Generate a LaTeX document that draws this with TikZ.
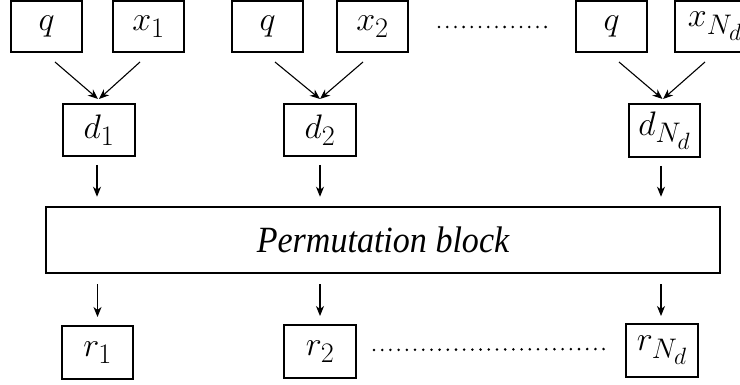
\RequirePackage{fix-cm}
\documentclass[tikz,border=0pt]{standalone}
\usepackage{fontspec}
\newfontfamily\blockfont{Liberation Serif}
\DeclareMathSizes{34}{34}{28.3}{23.6}
\usetikzlibrary{arrows.meta,calc}

\tikzset{
  every node/.style={font=\fontsize{34}{40}\selectfont},
  box/.style={draw, line width=2pt, inner sep=0pt, minimum width=71pt, minimum height=51pt},
  bigbox/.style={draw, line width=2.5pt, inner sep=0pt, minimum width=674pt, minimum height=66pt,
    font=\blockfont\itshape\fontsize{37}{40}\selectfont},
  arr/.style={line width=1.1pt, -{Stealth[length=10pt,width=8pt,inset=3pt]}},
  dotline/.style={line width=2.8pt, line cap=round, dash pattern=on 0pt off 8.2pt},
}

\begin{document}
\begin{tikzpicture}[x=1pt, y=-1pt]
\useasboundingbox (0,0) rectangle (740,385);

% inputs: query and data items
\node[box] (q1) at (46.5,26.5) {$q$};
\node[box] (x1) at (148.5,26.5) {$x_1$};
\node[box] (q2) at (267.5,26.5) {$q$};
\node[box] (x2) at (372.5,26.5) {$x_2$};
\node[box] (q3) at (611.5,26.5) {$q$};
\node[box, minimum width=80pt] (xN) at (715,26.5) {$x_{N_d}$};

% distances
\node[box, minimum width=72pt, minimum height=52pt] (d1) at (99,130) {$d_1$};
\node[box, minimum width=72pt, minimum height=52pt] (d2) at (320,130) {$d_2$};
\node[box, minimum height=53pt] (dN) at (664.5,130.5) {$d_{N_d}$};

% permutation block
\node[bigbox] (perm) at (383,240) {\scalebox{0.92}[1]{Permutation block}};

% outputs
\node[box, minimum height=53pt] (r1) at (97.5,352.5) {$r_1$};
\node[box, minimum width=72pt, minimum height=53pt] (r2) at (320,351.5) {$r_2$};
\node[box, minimum width=72pt, minimum height=53pt] (rN) at (662,350.5) {$r_{N_d}$};

% query/item pairs feeding each distance
\draw[arr] ($(q1.south)+(8.5,9)$) -- ($(d1.north)+(-1,-4)$);
\draw[arr] ($(x1.south)+(-8.5,9)$) -- ($(d1.north)+(0,-4)$);
\draw[arr] ($(q2.south)+(7.5,9)$) -- ($(d2.north)+(0,-4)$);
\draw[arr] ($(x2.south)+(-9.5,9)$) -- ($(d2.north)+(0,-4)$);
\draw[arr] ($(q3.south)+(7.5,9)$) -- ($(dN.north)+(-2,-4)$);
\draw[arr] ($(xN.south)+(-10,9)$) -- ($(dN.north)+(-1.5,-4)$);

% distances into the block
\draw[arr] ($(d1.south)+(-2,8)$) -- ($(d1.south |- perm.north)+(-2,-9)$);
\draw[arr] ($(d2.south)+(0,8)$) -- ($(d2.south |- perm.north)+(0,-9)$);
\draw[arr] ($(dN.south)+(-3.5,8)$) -- ($(dN.south |- perm.north)+(-3.5,-9)$);

% block to outputs
\draw[arr] ($(r1.north |- perm.south)+(0,10)$) -- ($(r1.north)+(0,-8)$);
\draw[arr] ($(r2.north |- perm.south)+(0,10)$) -- ($(r2.north)+(0,-8)$);
\draw[arr] ($(rN.north |- perm.south)+(-1,10)$) -- ($(rN.north)+(-1,-7)$);

% ellipses
\draw[dotline] ($(x2.east)+(30,0.5)$) -- ($(q3.west)+(-24,0.5)$);
\draw[dotline] ($(r2.east)+(17,-1.5)$) -- ($(rN.west)+(-21,-1.5)$);
\end{tikzpicture}
\end{document}
